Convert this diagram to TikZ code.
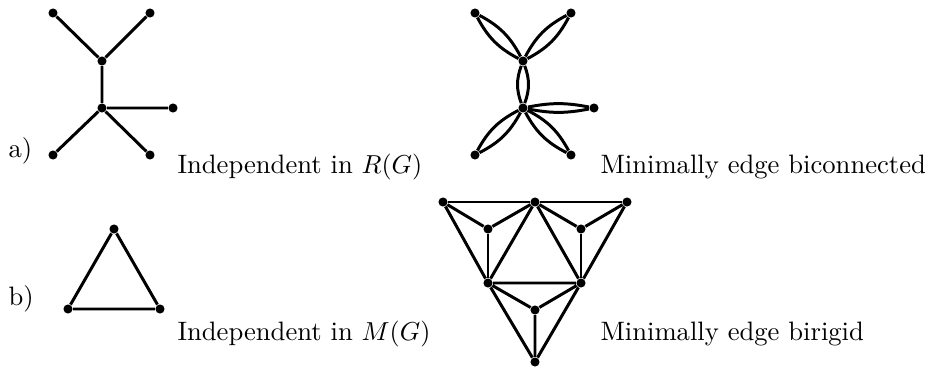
\documentclass[tikz,border=0pt]{standalone}
\usetikzlibrary{positioning}

\begin{document}
\begin{tikzpicture}[x=0.385pt,y=-0.385pt,
          vtx/.style={circle,fill=black,inner sep=0pt,minimum size=3.5pt},
          edge/.style={line width=1.15pt},
          caption/.style={anchor=base west,inner sep=0pt,font=\fontsize{10.25}{12}\selectfont}]
        \useasboundingbox (0,0) rectangle (930,368);
        % a) tree
        \node[vtx] (t1) at (53,13) {};
        \node[vtx] (t2) at (150,13) {};
        \node[vtx] (t3) at (102,61) {};
        \node[vtx] (t4) at (102,108) {};
        \node[vtx] (t5) at (173,108) {};
        \node[vtx] (t6) at (53,155) {};
        \node[vtx] (t7) at (150,155) {};
        \draw[edge] (t1) -- (t3) -- (t2) (t3) -- (t4) -- (t5)
          (t4) -- (t6) (t4) -- (t7);
        \node[caption] (ta) at (8,157) {a)};
        \node[caption] (tcap) at (177,173) {Independent in $R(G)$};
        % a) doubled tree
        \node[vtx] (d1) at (475,13) {};
        \node[vtx] (d2) at (571,13) {};
        \node[vtx] (d3) at (523,61) {};
        \node[vtx] (d4) at (523,108) {};
        \node[vtx] (d5) at (594,108) {};
        \node[vtx] (d6) at (475,155) {};
        \node[vtx] (d7) at (571,155) {};
        \draw[edge] (d1) to[bend left=17] (d3) (d1) to[bend right=17] (d3);
        \draw[edge] (d2) to[bend left=17] (d3) (d2) to[bend right=17] (d3);
        \draw[edge] (d3) to[bend left=20] (d4) (d3) to[bend right=20] (d4);
        \draw[edge] (d4) to[bend left=11] (d5) (d4) to[bend right=11] (d5);
        \draw[edge] (d4) to[bend left=17] (d6) (d4) to[bend right=17] (d6);
        \draw[edge] (d4) to[bend left=17] (d7) (d4) to[bend right=17] (d7);
        \node[caption] (dcap) at (600,173) {Minimally edge biconnected};
        % b) triangle
        \node[vtx] (p1) at (114,229) {};
        \node[vtx] (p2) at (68,309) {};
        \node[vtx] (p3) at (160,309) {};
        \draw[edge] (p1) -- (p2) -- (p3) -- (p1);
        \node[caption] (pb) at (8,305) {b)};
        \node[caption] (pcap) at (177,340) {Independent in $M(G)$};
        % b) birigid graph
        \node[vtx] (b1) at (443,202) {};
        \node[vtx] (b2) at (535,202) {};
        \node[vtx] (b3) at (627,202) {};
        \node[vtx] (b4) at (488,229) {};
        \node[vtx] (b5) at (581,229) {};
        \node[vtx] (b6) at (488,283) {};
        \node[vtx] (b7) at (581,283) {};
        \node[vtx] (b8) at (535,310) {};
        \node[vtx] (b9) at (535,362) {};
        \draw[edge] (b1) -- (b2) -- (b3);
        \draw[edge] (b1) -- (b4) -- (b2) -- (b5) -- (b3);
        \draw[edge] (b4) -- (b6) (b5) -- (b7);
        \draw[edge] (b1) -- (b6) -- (b2) -- (b7) -- (b3);
        \draw[edge] (b6) -- (b7) (b6) -- (b8) -- (b7) (b8) -- (b9);
        \draw[edge] (b6) -- (b9) -- (b7);
        \node[caption] (bcap) at (600,340) {Minimally edge birigid};
      \end{tikzpicture}
\end{document}
